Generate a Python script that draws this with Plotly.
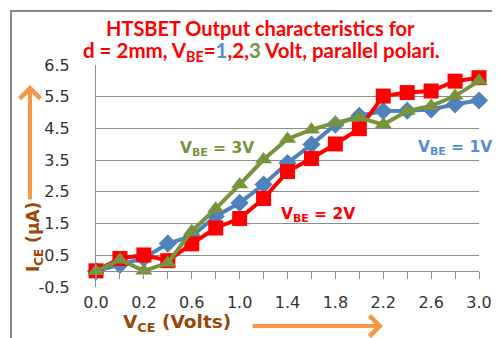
import plotly.graph_objects as go

# Data
vce_categories = ["0.0", "0.1", "0.2", "0.4", "0.6", "0.8", "1.0", "1.2", "1.4",
                  "1.6", "1.8", "2.0", "2.2", "2.4", "2.6", "2.8", "3.0"]
ice_vbe1 = [0.0, 0.2, 0.41, 0.87, 1.1, 1.73, 2.15, 2.73, 3.41, 3.99, 4.62, 4.9, 5.05, 5.06, 5.1, 5.26, 5.38]
ice_vbe2 = [0.01, 0.40, 0.51, 0.33, 0.86, 1.36, 1.66, 2.29, 3.14, 3.55, 4.01, 4.49, 5.52, 5.63, 5.68, 5.99, 6.10]
ice_vbe3 = [0.0, 0.36, 0.01, 0.26, 1.26, 1.97, 2.73, 3.52, 4.17, 4.46, 4.68, 4.84, 4.62, 5.05, 5.21, 5.52, 6.0]
y_tick_values = [-0.5, 0.5, 1.5, 2.5, 3.5, 4.5, 5.5, 6.5]
x_tick_labels = [c if i % 2 == 0 else "" for i, c in enumerate(vce_categories)]

BLUE = "#4F81BD"
RED = "#FF0000"
GREEN = "#77933C"
BROWN = "#984807"
ORANGE = "#F79646"
GRID = "#8C8C8C"

fig = go.Figure()
fig.add_trace(go.Scatter(x=vce_categories, y=ice_vbe1, mode="lines+markers", name="VBE=1V",
                         line=dict(color=BLUE, width=4),
                         marker=dict(symbol="diamond", size=14, color=BLUE),
                         cliponaxis=False))
fig.add_trace(go.Scatter(x=vce_categories, y=ice_vbe2, mode="lines+markers", name="VBE=2V",
                         line=dict(color=RED, width=4),
                         marker=dict(symbol="square", size=15, color=RED),
                         cliponaxis=False))
fig.add_trace(go.Scatter(x=vce_categories, y=ice_vbe3, mode="lines+markers", name="VBE=3V",
                         line=dict(color=GREEN, width=4),
                         marker=dict(symbol="triangle-up", size=15, color=GREEN),
                         cliponaxis=False))

fig.update_layout(
    width=500, height=338,
    margin=dict(l=88, r=29, t=57, b=59),
    paper_bgcolor="white", plot_bgcolor="white",
    showlegend=False,
    xaxis=dict(type="category", categoryorder="array", categoryarray=vce_categories,
               range=[0, len(vce_categories) - 1],
               anchor="free", position=0.5 / 7,
               tickmode="array", tickvals=vce_categories, ticktext=x_tick_labels,
               ticks="outside", ticklen=7, tickcolor=GRID, tickwidth=1,
               showline=True, linecolor=GRID, linewidth=1,
               showgrid=False, zeroline=False,
               ticklabelstandoff=10,
               tickfont=dict(family="DejaVu Sans", size=16, color="#333333")),
    yaxis=dict(range=[-0.5, 6.5], tickmode="array", tickvals=y_tick_values,
               ticktext=[f"{v:.1f}" for v in y_tick_values],
               showgrid=False, zeroline=False,
               showline=True, linecolor=GRID, linewidth=1,
               ticks="", ticklabelstandoff=22,
               minor=dict(tickmode="array", tickvals=y_tick_values[1:], showgrid=True,
                          gridcolor=GRID, gridwidth=1, ticks=""),
               tickfont=dict(family="DejaVu Sans", size=16, color="#333333")),
)

def px_x(p):
    return (p - 88) / 383

def px_y(p):
    return (279 - p) / 222

ann_font = "DejaVu Sans"
annotations = [
    dict(text="<b>HTSBET Output characteristics for</b>", x=px_x(252), y=px_y(20),
         font=dict(family="Lato", size=20, color=RED)),
    dict(text="<b>d = 2mm, V<sub>BE</sub>=<span style='color:#558ED5'>1</span>,2,"
              "<span style='color:#77933C'>3</span> Volt, parallel polari.</b>",
         x=px_x(253), y=px_y(44), font=dict(family="Lato", size=20.5, color=RED)),
    dict(text="<b>V<sub>BE</sub> = 3V</b>", x=px_x(209), y=px_y(141),
         font=dict(family=ann_font, size=15.5, color=GREEN)),
    dict(text="<b>V<sub>BE</sub> = 1V</b>", x=px_x(447), y=px_y(140),
         font=dict(family=ann_font, size=15.5, color="#558ED5")),
    dict(text="<b>V<sub>BE</sub> = 2V</b>", x=px_x(310), y=px_y(207),
         font=dict(family=ann_font, size=15.5, color=RED)),
    dict(text="<b>I<sub>CE</sub> (μA)</b>", x=px_x(26), y=px_y(229), textangle=-90,
         font=dict(family=ann_font, size=17, color=BROWN)),
    dict(text="<b>V<sub>CE</sub> (Volts)</b>", x=px_x(169), y=px_y(315),
         font=dict(family=ann_font, size=18.5, color=BROWN)),
]
for a in annotations:
    a.update(xref="paper", yref="paper", showarrow=False, xanchor="center", yanchor="middle")
    fig.add_annotation(**a)

# orange arrows
fig.add_annotation(x=px_x(22), y=px_y(77), xref="paper", yref="paper", text="",
                   showarrow=True, ax=0, ay=116, arrowhead=4, arrowsize=1,
                   arrowwidth=4, arrowcolor=ORANGE)
fig.add_annotation(x=px_x(375), y=px_y(318), xref="paper", yref="paper", text="",
                   showarrow=True, ax=-132, ay=0, arrowhead=4, arrowsize=1,
                   arrowwidth=4, arrowcolor=ORANGE)

# chart border
fig.add_shape(type="rect", xref="paper", yref="paper",
              x0=px_x(3), x1=px_x(497.5), y0=px_y(345), y1=px_y(3),
              line=dict(color="#888888", width=2), fillcolor="rgba(0,0,0,0)", layer="above")

fig.write_html("out.html")
